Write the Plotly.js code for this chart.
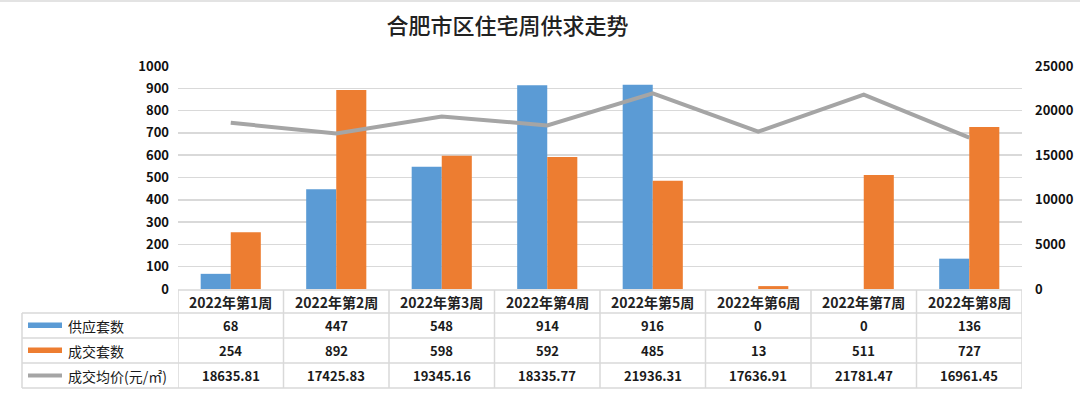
<!DOCTYPE html>
<html><head><meta charset="utf-8">
<script src="https://cdn.plot.ly/plotly-3.0.1.min.js"></script>
<style>body{margin:0;background:#fff}#c{width:1080px;height:397px}</style>
</head><body><div id="c"></div>
<script>
const categories = ["2022年第1周","2022年第2周","2022年第3周","2022年第4周","2022年第5周","2022年第6周","2022年第7周","2022年第8周"];
const supply = [68, 447, 548, 914, 916, 0, 0, 136];
const deals = [254, 892, 598, 592, 485, 13, 511, 727];
const avgPrice = [18635.81, 17425.83, 19345.16, 18335.77, 21936.31, 17636.91, 21781.47, 16961.45];
const seriesNames = ["供应套数", "成交套数", "成交均价(元/㎡)"];
const colors = ["#5B9BD5", "#ED7D31", "#A5A5A5"];

const FONT = "Noto Sans CJK SC, Noto Sans, sans-serif";
const W = 1080, H = 397, L = 178, R = 58, T = 66, B = 108;
const pw = W - L - R, ph = H - T - B;
const py = p => (H - B - p) / ph;      // pixel y -> paper y
const px = p => (p - L) / pw;          // pixel x -> paper x

const traces = [
  {type:'bar', x:categories, y:supply, name:seriesNames[0], marker:{color:colors[0]}, hoverinfo:'y'},
  {type:'bar', x:categories, y:deals, name:seriesNames[1], marker:{color:colors[1]}, hoverinfo:'y'},
  {type:'scatter', mode:'lines', x:categories, y:avgPrice, name:seriesNames[2], yaxis:'y2',
   line:{color:colors[2], width:4}, hoverinfo:'y'}
];

const shapes = [];
const annotations = [];
const gridColor = "#D9D9D9";
// thin frame line at top of the picture
shapes.push({type:'line', xref:'paper', yref:'paper', x0:px(0), x1:px(W), y0:py(1), y1:py(1),
  line:{color:'#E3E3E3', width:2}});
const rowLines = [290, 313, 338, 363, 388];
rowLines.forEach((r, i) => {
  shapes.push({type:'line', xref:'paper', yref:'paper',
    x0: i === 0 ? 0 : px(22), x1: 1, y0: py(r), y1: py(r),
    line:{color:gridColor, width:1.5}});
});
for (let i = 0; i <= categories.length; i++) {
  shapes.push({type:'line', xref:'x', yref:'paper', x0:i-0.5, x1:i-0.5,
    y0: py(290), y1: py(388), line:{color:gridColor, width:1.5}});
}
shapes.push({type:'line', xref:'paper', yref:'paper', x0:px(22), x1:px(22),
  y0: py(313), y1: py(388), line:{color:gridColor, width:1.5}});

categories.forEach((c, i) => {
  annotations.push({xref:'x', yref:'paper', x:i, y:py(301.5), yanchor:'middle', text:c, showarrow:false,
    font:{family:FONT, size:14, color:'#222', weight:'bold'}});
});
const rows = [supply, deals, avgPrice.map(v => v.toFixed(2))];
const rowY = [325.5, 350.5, 375.5];
rows.forEach((vals, r) => {
  vals.forEach((v, i) => {
    annotations.push({xref:'x', yref:'paper', x:i, y:py(rowY[r]), yanchor:'middle', text:String(v), showarrow:false,
      font:{family:FONT, size:13, color:'#1a1a1a', weight:'bold'}});
  });
  if (r < 2) {
    shapes.push({type:'rect', xref:'paper', yref:'paper', x0:px(28), x1:px(62),
      y0:py(rowY[r]+2.5), y1:py(rowY[r]-3), fillcolor:colors[r], line:{width:0}});
  } else {
    shapes.push({type:'line', xref:'paper', yref:'paper', x0:px(28), x1:px(62),
      y0:py(rowY[r]), y1:py(rowY[r]), line:{color:colors[r], width:4}});
  }
  annotations.push({xref:'paper', yref:'paper', x:px(66), xanchor:'left', y:py(rowY[r]), yanchor:'middle',
    text:seriesNames[r], showarrow:false, font:{family:FONT, size:14, color:'#1a1a1a'}});
});

const layout = {
  width:W, height:H,
  margin:{l:L, r:R, t:T, b:B},
  paper_bgcolor:'#fff', plot_bgcolor:'#fff',
  title:{text:'合肥市区住宅周供求走势', x:0.47, xanchor:'center', y:0.935, yanchor:'middle',
    font:{family:FONT, size:22, color:'#222', weight:500}},
  showlegend:false,
  barmode:'group', bargap:0.43, bargroupgap:0,
  xaxis:{type:'category', showticklabels:false, showgrid:false, zeroline:false, showline:false,
    range:[-0.5, categories.length-0.5]},
  yaxis:{range:[0,1000], dtick:100, showgrid:true, gridcolor:gridColor, gridwidth:1.5, zeroline:false,
    tickfont:{family:FONT, size:13, color:'#111', weight:'bold'}, ticks:'', ticklabelstandoff:8},
  yaxis2:{range:[0,25000], dtick:5000, tickformat:'d', overlaying:'y', side:'right', showgrid:false, zeroline:false,
    tickfont:{family:FONT, size:13, color:'#111', weight:'bold'}, ticks:'', ticklabelstandoff:12},
  shapes:shapes, annotations:annotations
};
Plotly.newPlot('c', traces, layout, {displayModeBar:false, staticPlot:true});
</script></body></html>
